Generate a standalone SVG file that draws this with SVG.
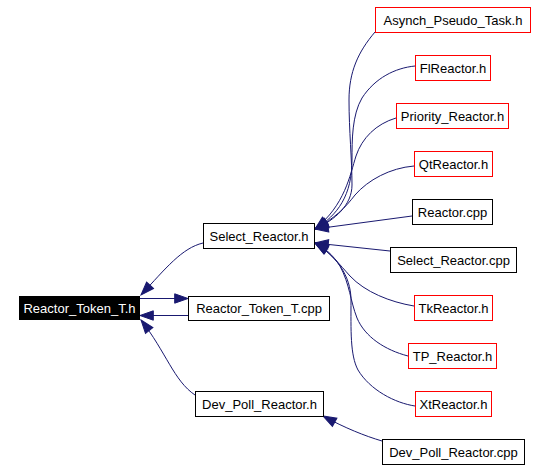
<svg xmlns="http://www.w3.org/2000/svg" width="547" height="470" viewBox="0 0 547 470">
<defs>
<style>
.n rect{fill:#fff;stroke:#000;stroke-width:1}
.r rect{stroke:#ff0000}
.n text{font-family:"Liberation Sans",Arial,sans-serif;font-size:13px;text-anchor:middle;fill:#000}
.root rect{fill:#000;stroke:#000}
.root text{fill:#fff}
.e path{fill:none;stroke:#191970;stroke-width:1;marker-end:url(#ah)}
</style>
<marker id="ah" markerUnits="userSpaceOnUse" markerWidth="16" markerHeight="12" refX="13.3" refY="0" orient="auto" viewBox="0 -6 16 12" overflow="visible">
<path d="M0,-4.7 L13.3,0 L0,4.7 z" fill="#191970" stroke="#191970" stroke-width="1"/>
</marker>
</defs>
<rect width="547" height="470" fill="#fff"/>
<g id="edges" class="e">
<path d="M203,243 C182,248 166,268 141,295"/>
<path d="M139,298.5 L188,298.5"/>
<path d="M188,315.5 L140,315.5"/>
<path d="M195,395 C174,381 166,352 141,320"/>
<path d="M382,441 C365,436 345,428 323,416"/>
<path d="M375,32 C358,52 349,72 349,100 C349,130 352,160 352,185 C352,205 335,220 315,229"/>
<path d="M415,66 C395,68 375,78 362,98 C352,115 352,140 352,160 C352,195 338,215 315,229"/>
<path d="M396,118 C376,124 362,138 356,156 C350,175 345,205 315,229"/>
<path d="M414,166 C390,168 368,180 355,195 C345,208 335,218 315,229"/>
<path d="M412,216 L315,229"/>
<path d="M390,251 L315,243"/>
<path d="M414,306 C390,302 365,292 350,276 C340,265 330,252 315,243"/>
<path d="M408,356 C385,350 365,337 357,318 C350,300 350,285 340,266 C333,255 325,248 315,243"/>
<path d="M415,406 C395,403 370,390 358,370 C350,355 351,330 351,300 C351,275 335,255 315,243"/>
</g>
<g id="Reactor_Token_T_h" class="n root"><rect x="19.5" y="296.5" width="120" height="23"/><text x="79.5" y="312.5">Reactor_Token_T.h</text></g>
<g id="Select_Reactor_h" class="n"><rect x="203.5" y="223.5" width="111" height="25"/><text x="259" y="240.5">Select_Reactor.h</text></g>
<g id="Reactor_Token_T_cpp" class="n"><rect x="188.5" y="296.5" width="141" height="24"/><text x="259" y="313">Reactor_Token_T.cpp</text></g>
<g id="Dev_Poll_Reactor_h" class="n"><rect x="195.5" y="391.5" width="128" height="25"/><text x="259.5" y="408.5">Dev_Poll_Reactor.h</text></g>
<g id="Asynch_Pseudo_Task_h" class="n r"><rect x="375.5" y="7.5" width="155" height="25"/><text x="453" y="24.5">Asynch_Pseudo_Task.h</text></g>
<g id="FlReactor_h" class="n r"><rect x="415.5" y="55.5" width="75" height="25"/><text x="453" y="72.5">FlReactor.h</text></g>
<g id="Priority_Reactor_h" class="n r"><rect x="396.5" y="103.5" width="112" height="25"/><text x="452.5" y="120.5">Priority_Reactor.h</text></g>
<g id="QtReactor_h" class="n r"><rect x="414.5" y="151.5" width="78" height="25"/><text x="453.5" y="168.5">QtReactor.h</text></g>
<g id="Reactor_cpp" class="n"><rect x="412.5" y="199.5" width="80" height="25"/><text x="452.5" y="216.5">Reactor.cpp</text></g>
<g id="Select_Reactor_cpp" class="n"><rect x="390.5" y="247.5" width="126" height="25"/><text x="453.5" y="264.5">Select_Reactor.cpp</text></g>
<g id="TkReactor_h" class="n r"><rect x="414.5" y="295.5" width="78" height="25"/><text x="453.5" y="312.5">TkReactor.h</text></g>
<g id="TP_Reactor_h" class="n r"><rect x="408.5" y="343.5" width="88" height="25"/><text x="452.5" y="360.5">TP_Reactor.h</text></g>
<g id="XtReactor_h" class="n r"><rect x="415.5" y="391.5" width="76" height="25"/><text x="453.5" y="408.5">XtReactor.h</text></g>
<g id="Dev_Poll_Reactor_cpp" class="n"><rect x="382.5" y="439.5" width="142" height="25"/><text x="453.5" y="456.5">Dev_Poll_Reactor.cpp</text></g>
</svg>
